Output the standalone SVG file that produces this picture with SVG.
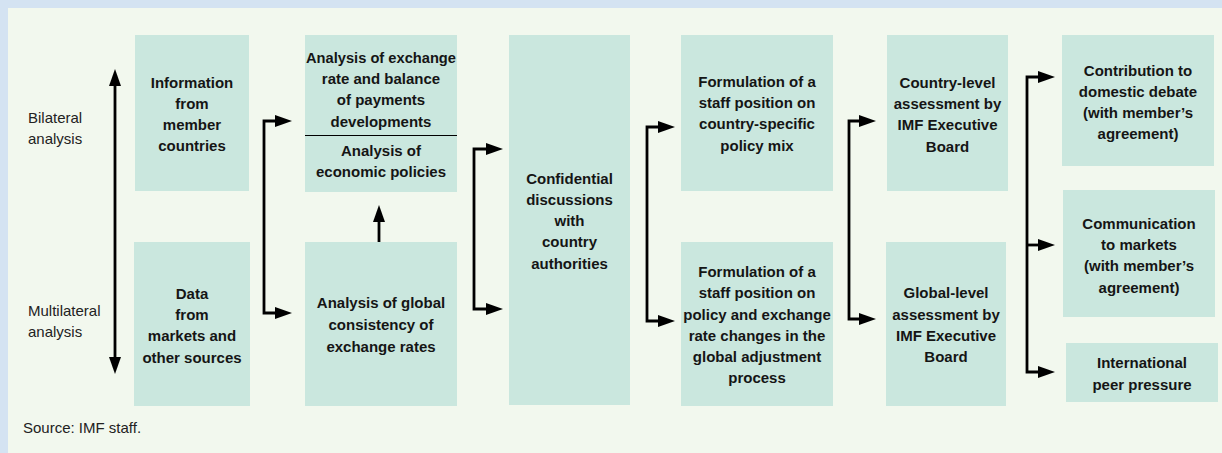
<svg xmlns="http://www.w3.org/2000/svg" width="1222" height="453" viewBox="0 0 1222 453">
<style>
.bg{fill:#d4e3f2}
.panel{fill:#f2f8ee}
.box{fill:#cae7de}
.t{font-family:"Liberation Sans",Arial,sans-serif;font-weight:bold;font-size:15px;fill:#151515;text-anchor:middle}
.p{font-family:"Liberation Sans",Arial,sans-serif;font-size:15px;fill:#222}
.c{fill:none;stroke:#000;stroke-width:2.8;stroke-linejoin:miter}
</style>
<defs>
<marker id="ah" markerUnits="userSpaceOnUse" markerWidth="18" markerHeight="13" refX="6" refY="6" orient="auto-start-reverse" viewBox="0 0 18 12">
<path d="M0,0 L17,6 L0,12 Z" fill="#000"/>
</marker>
</defs>
<rect class="bg" x="0" y="0" width="1222" height="453"/>
<rect class="panel" x="8" y="8" width="1214" height="445"/>

<g id="label-bilateral"><text class="p" x="28" y="123">Bilateral</text><text class="p" x="28" y="144">analysis</text></g>
<g id="label-multilateral"><text class="p" x="28" y="316">Multilateral</text><text class="p" x="28" y="337">analysis</text></g>

<g id="n-info"><rect class="box" x="135" y="35" width="114" height="156"/>
<text class="t" x="192" y="88">Information</text><text class="t" x="192" y="109">from</text><text class="t" x="192" y="130">member</text><text class="t" x="192" y="151">countries</text></g>

<g id="n-data"><rect class="box" x="134" y="242" width="116" height="164"/>
<text class="t" x="192" y="299">Data</text><text class="t" x="192" y="320">from</text><text class="t" x="192" y="341">markets and</text><text class="t" x="192" y="363">other sources</text></g>

<g id="n-exch"><rect class="box" x="305" y="35" width="152" height="157"/>
<line x1="305" y1="135.5" x2="457" y2="135.5" stroke="#000" stroke-width="1.2"/>
<text class="t" x="381" y="63" textLength="150" lengthAdjust="spacingAndGlyphs">Analysis of exchange</text><text class="t" x="381" y="84">rate and balance</text><text class="t" x="381" y="105">of payments</text><text class="t" x="381" y="127">developments</text>
<text class="t" x="381" y="156">Analysis of</text><text class="t" x="381" y="177">economic policies</text></g>

<g id="n-global"><rect class="box" x="305" y="242" width="152" height="164"/>
<text class="t" x="381" y="308">Analysis of global</text><text class="t" x="381" y="330">consistency of</text><text class="t" x="381" y="352">exchange rates</text></g>

<g id="n-conf"><rect class="box" x="509" y="35" width="121" height="370"/>
<text class="t" x="569.5" y="184">Confidential</text><text class="t" x="569.5" y="205">discussions</text><text class="t" x="569.5" y="226">with</text><text class="t" x="569.5" y="247">country</text><text class="t" x="569.5" y="269">authorities</text></g>

<g id="n-form1"><rect class="box" x="681" y="35" width="152" height="156"/>
<text class="t" x="757" y="87">Formulation of a</text><text class="t" x="757" y="108">staff position on</text><text class="t" x="757" y="129">country-specific</text><text class="t" x="757" y="151">policy mix</text></g>

<g id="n-form2"><rect class="box" x="681" y="242" width="152" height="164"/>
<text class="t" x="757" y="277">Formulation of a</text><text class="t" x="757" y="298">staff position on</text><text class="t" x="757" y="320">policy and exchange</text><text class="t" x="757" y="341">rate changes in the</text><text class="t" x="757" y="362">global adjustment</text><text class="t" x="757" y="383">process</text></g>

<g id="n-country"><rect class="box" x="887" y="35" width="121" height="156"/>
<text class="t" x="947.5" y="88">Country-level</text><text class="t" x="947.5" y="109">assessment by</text><text class="t" x="947.5" y="130">IMF Executive</text><text class="t" x="947.5" y="152">Board</text></g>

<g id="n-globallevel"><rect class="box" x="886" y="242" width="120" height="164"/>
<text class="t" x="946" y="298">Global-level</text><text class="t" x="946" y="320">assessment by</text><text class="t" x="946" y="341">IMF Executive</text><text class="t" x="946" y="362">Board</text></g>

<g id="n-contrib"><rect class="box" x="1062" y="35" width="152" height="131"/>
<text class="t" x="1138" y="76">Contribution to</text><text class="t" x="1138" y="97">domestic debate</text><text class="t" x="1138" y="118">(with member’s</text><text class="t" x="1138" y="139">agreement)</text></g>

<g id="n-comm"><rect class="box" x="1063" y="190" width="152" height="127"/>
<text class="t" x="1139" y="229">Communication</text><text class="t" x="1139" y="250">to markets</text><text class="t" x="1139" y="271">(with member’s</text><text class="t" x="1139" y="293">agreement)</text></g>

<g id="n-peer"><rect class="box" x="1066" y="343" width="152" height="59"/>
<text class="t" x="1142" y="368">International</text><text class="t" x="1142" y="390">peer pressure</text></g>

<g id="connectors">
<path class="c" d="M115,80 V363" marker-start="url(#ah)" marker-end="url(#ah)"/>
<path class="c" d="M281,121 H264 V313 H281" marker-start="url(#ah)" marker-end="url(#ah)"/>
<path class="c" d="M379,242 V216" marker-end="url(#ah)"/>
<path class="c" d="M492,149 H474 V309 H492" marker-start="url(#ah)" marker-end="url(#ah)"/>
<path class="c" d="M664,127 H647 V321 H664" marker-start="url(#ah)" marker-end="url(#ah)"/>
<path class="c" d="M865,121 H849 V319 H865" marker-start="url(#ah)" marker-end="url(#ah)"/>
<path class="c" d="M1044,77 H1027 V372 H1044" marker-start="url(#ah)" marker-end="url(#ah)"/>
<path class="c" d="M1027,245 H1044" marker-end="url(#ah)"/>
</g>

<text class="p" x="23" y="433" font-size="14.5">Source: IMF staff.</text>
</svg>
